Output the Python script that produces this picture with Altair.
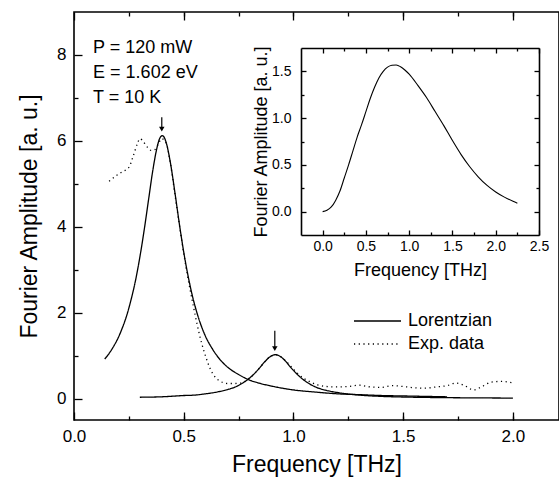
import altair as alt
import pandas as pd

# ---------------- data ----------------
lor1_x = [0.14, 0.16, 0.18, 0.20, 0.22, 0.24, 0.26, 0.28, 0.30, 0.32, 0.34, 0.36, 0.38, 0.39, 0.402,
          0.41, 0.42, 0.44, 0.46, 0.48, 0.50, 0.52, 0.54, 0.56, 0.58, 0.60, 0.63, 0.66, 0.70, 0.75,
          0.80, 0.85, 0.90, 0.95, 1.0, 1.1, 1.2, 1.3, 1.4, 1.5, 1.6, 1.7]
lor1_y = [0.92, 1.05, 1.21, 1.40, 1.64, 1.93, 2.30, 2.74, 3.29, 3.93, 4.64, 5.34, 5.88, 6.05, 6.12,
          6.09, 5.96, 5.47, 4.79, 4.07, 3.41, 2.85, 2.38, 2.00, 1.69, 1.44, 1.16, 0.94, 0.73, 0.56,
          0.43, 0.35, 0.29, 0.24, 0.20, 0.15, 0.11, 0.09, 0.07, 0.06, 0.05, 0.04]

lor2_x = [0.30, 0.40, 0.50, 0.55, 0.60, 0.65, 0.70, 0.74, 0.78, 0.81, 0.84, 0.87, 0.89, 0.918, 0.94,
          0.96, 0.99, 1.02, 1.05, 1.10, 1.15, 1.20, 1.30, 1.40, 1.50, 1.60, 1.70, 1.80, 1.90, 2.00]
lor2_y = [0.03, 0.04, 0.07, 0.08, 0.11, 0.15, 0.21, 0.28, 0.40, 0.52, 0.68, 0.86, 0.96, 1.02, 0.98,
          0.89, 0.71, 0.55, 0.42, 0.27, 0.19, 0.14, 0.08, 0.05, 0.035, 0.026, 0.02, 0.016, 0.013, 0.01]

exp_x = [0.16, 0.19, 0.22, 0.25, 0.27, 0.29, 0.30, 0.31, 0.33, 0.35, 0.37, 0.38, 0.40, 0.42, 0.44,
         0.46, 0.48, 0.50, 0.52, 0.54, 0.56, 0.58, 0.60, 0.62, 0.64, 0.66, 0.68, 0.70, 0.73, 0.76,
         0.78, 0.81, 0.84, 0.87, 0.89, 0.92, 0.94, 0.96, 0.99, 1.02, 1.05, 1.08, 1.11, 1.15, 1.20,
         1.25, 1.30, 1.35, 1.40, 1.45, 1.50, 1.55, 1.60, 1.65, 1.70, 1.74, 1.78, 1.82, 1.86, 1.90,
         1.95, 2.00]
exp_y = [5.06, 5.18, 5.28, 5.38, 5.65, 5.95, 6.05, 6.02, 5.88, 5.78, 5.80, 5.88, 6.05, 5.95, 5.45,
         4.75, 4.05, 3.38, 2.78, 2.25, 1.75, 1.32, 0.98, 0.70, 0.52, 0.42, 0.37, 0.35, 0.35, 0.36,
         0.40, 0.52, 0.68, 0.86, 0.96, 1.02, 0.98, 0.90, 0.74, 0.58, 0.46, 0.38, 0.32, 0.28, 0.27,
         0.28, 0.31, 0.27, 0.26, 0.30, 0.28, 0.25, 0.24, 0.27, 0.30, 0.36, 0.30, 0.20, 0.28, 0.38,
         0.40, 0.36]

inset_x = [0.0, 0.05, 0.1, 0.15, 0.2, 0.25, 0.3, 0.35, 0.4, 0.45, 0.5, 0.55, 0.6, 0.65, 0.7, 0.75,
           0.8, 0.85, 0.9, 0.95, 1.0, 1.1, 1.2, 1.3, 1.4, 1.5, 1.6, 1.7, 1.8, 1.9, 2.0, 2.1, 2.2, 2.25]
inset_y = [0.0, 0.015, 0.05, 0.12, 0.22, 0.36, 0.50, 0.65, 0.80, 0.93, 1.07, 1.21, 1.33, 1.43, 1.50,
           1.545, 1.565, 1.568, 1.55, 1.515, 1.47, 1.35, 1.22, 1.07, 0.92, 0.76, 0.61, 0.48, 0.37,
           0.28, 0.21, 0.155, 0.11, 0.09]

arrow_x = [0.40, 0.915]
arrow_top = [6.55, 1.58]
arrow_head = [6.27, 1.16]

notes = ["P = 120 mW", "E = 1.602 eV", "T = 10 K"]
note_x = [0.087, 0.087, 0.087]
note_y = [8.16, 7.58, 7.0]

series_names = ["Lorentzian", "Exp. data"]

main_x_major = [0.0, 0.5, 1.0, 1.5, 2.0]
main_x_minor = [0.25, 0.5, 0.75, 1.0, 1.25, 1.5, 1.75, 2.0]
main_y_major = [0, 2, 4, 6, 8]
main_y_minor = [1, 3, 5, 7]
inset_x_major = [0.0, 0.5, 1.0, 1.5, 2.0, 2.5]
inset_x_minor = [0.25, 0.75, 1.25, 1.75, 2.25]
inset_y_major = [0.0, 0.5, 1.0, 1.5]
inset_y_minor = [0.25, 0.75, 1.25]

# ---------------- layout ----------------
FONT = "Liberation Sans"
W, H = 485, 408
IN_X_RANGE = [227, 465]
IN_Y_RANGE = [223, 36]
IN_BOTTOM_OFF = IN_Y_RANGE[0] - H      # offset of inset bottom edge
IN_TOP_OFF = -IN_Y_RANGE[1]
IN_LEFT_OFF = -IN_X_RANGE[0]
IN_RIGHT_OFF = IN_X_RANGE[1] - W

rows = []
for x, y in zip(lor1_x, lor1_y):
    rows.append({"x": x, "y": y, "series": "Lorentzian", "curve": "L1"})
for x, y in zip(lor2_x, lor2_y):
    rows.append({"x": x, "y": y, "series": "Lorentzian", "curve": "L2"})
for x, y in zip(exp_x, exp_y):
    rows.append({"x": x, "y": y, "series": "Exp. data", "curve": "E"})
main_df = pd.DataFrame(rows)
inset_df = pd.DataFrame({"x": inset_x, "y": inset_y})
arrow_df = pd.DataFrame({"x": arrow_x, "top": arrow_top, "head": arrow_head})
note_df = pd.DataFrame({"x": note_x, "y": note_y, "text": notes})


def xs_main():
    return alt.Scale(domain=[0, 2.21], nice=False, zero=False)


def ys_main():
    return alt.Scale(domain=[-0.5, 9], nice=False, zero=False)


def xs_in():
    return alt.Scale(domain=[-0.25, 2.5], range=IN_X_RANGE, nice=False, zero=False)


def ys_in():
    return alt.Scale(domain=[-0.25, 1.75], range=IN_Y_RANGE, nice=False, zero=False)


def tick_axis(orient, values, size, offset):
    return alt.Axis(orient=orient, values=values, tickSize=size, offset=offset, labels=False,
                    domain=False, grid=False, ticks=True, title=None)


def frame_axis(orient, offset):
    return alt.Axis(orient=orient, offset=offset, labels=False, ticks=False, domain=True,
                    grid=False, title=None, domainWidth=1.6)


def tick_layer(df, xs, ys, xaxis, yaxis):
    return alt.Chart(df).mark_point(opacity=0).encode(
        x=alt.X("x:Q", scale=xs, axis=xaxis),
        y=alt.Y("y:Q", scale=ys, axis=yaxis),
    )


lines = alt.Chart(main_df).mark_line(color="black", strokeWidth=1.3, interpolate="monotone").encode(
    x=alt.X("x:Q", scale=xs_main(),
            axis=alt.Axis(orient="bottom", values=main_x_major, format=".1f", tickSize=8, offset=-8,
                          domain=False, grid=False, labelPadding=8, labelFontSize=17,
                          labelFlush=False, title="Frequency [THz]", titleFontSize=23,
                          titlePadding=9)),
    y=alt.Y("y:Q", scale=ys_main(),
            axis=alt.Axis(orient="left", values=main_y_major, format="d", tickSize=8, offset=-8,
                          domain=False, grid=False, labelPadding=8, labelFontSize=17,
                          labelFlush=False, title="Fourier Amplitude [a. u.]", titleFontSize=23,
                          titlePadding=15)),
    strokeDash=alt.StrokeDash("series:N",
                              scale=alt.Scale(domain=series_names, range=[[1, 0], [1.2, 3.5]]),
                              legend=alt.Legend(orient="none", legendX=279, legendY=300, title=None,
                                                symbolType="stroke", symbolSize=2209,
                                                symbolStrokeWidth=1.3, symbolStrokeColor="black",
                                                labelFontSize=18, labelOffset=6, rowPadding=5,
                                                clipHeight=18, padding=0)),
    detail="curve:N",
)

arrow_shaft = alt.Chart(arrow_df).mark_rule(color="black", strokeWidth=1.2).encode(
    x=alt.X("x:Q", scale=xs_main(), axis=None),
    y=alt.Y("top:Q", scale=ys_main(), axis=None),
    y2="head:Q",
)
arrow_tip = alt.Chart(arrow_df).mark_point(shape="triangle-down", filled=True, color="black",
                                           size=30, opacity=1).encode(
    x=alt.X("x:Q", scale=xs_main(), axis=None),
    y=alt.Y("head:Q", scale=ys_main(), axis=None),
)

note_text = alt.Chart(note_df).mark_text(align="left", baseline="middle", fontSize=18, font=FONT,
                                         color="black").encode(
    x=alt.X("x:Q", scale=xs_main(), axis=None),
    y=alt.Y("y:Q", scale=ys_main(), axis=None),
    text="text:N",
)

main_minor = tick_layer(main_df, xs_main(), ys_main(),
                        tick_axis("bottom", main_x_minor, 4, -4),
                        tick_axis("left", main_y_minor, 4, -4))
main_top = tick_layer(main_df, xs_main(), ys_main(),
                      tick_axis("top", main_x_major, 8, -8), None)
main_top_minor = tick_layer(main_df, xs_main(), ys_main(),
                            tick_axis("top", main_x_minor, 4, -4), None)

inset_line = alt.Chart(inset_df).mark_line(color="black", strokeWidth=1.1, interpolate="monotone").encode(
    x=alt.X("x:Q", scale=xs_in(),
            axis=alt.Axis(orient="bottom", values=inset_x_major, format=".1f", tickSize=5,
                          offset=IN_BOTTOM_OFF - 5, domain=False, grid=False, labelPadding=4,
                          labelFontSize=14, labelFlush=False, title="Frequency [THz]",
                          titleFontSize=18, titlePadding=8)),
    y=alt.Y("y:Q", scale=ys_in(),
            axis=alt.Axis(orient="left", values=inset_y_major, format=".1f", tickSize=5,
                          offset=IN_LEFT_OFF - 5, domain=False, grid=False, labelPadding=10,
                          labelFontSize=14, labelFlush=False, title="Fourier Amplitude [a. u.]",
                          titleFontSize=18, titlePadding=1)),
)
inset_minor = tick_layer(inset_df, xs_in(), ys_in(),
                         tick_axis("bottom", inset_x_minor, 3, IN_BOTTOM_OFF - 3),
                         tick_axis("left", inset_y_minor, 3, IN_LEFT_OFF - 3))
inset_top = tick_layer(inset_df, xs_in(), ys_in(),
                       tick_axis("top", inset_x_major, 5, IN_TOP_OFF - 5),
                       tick_axis("right", inset_y_major, 5, IN_RIGHT_OFF - 5))
inset_top_minor = tick_layer(inset_df, xs_in(), ys_in(),
                             tick_axis("top", inset_x_minor, 3, IN_TOP_OFF - 3),
                             tick_axis("right", inset_y_minor, 3, IN_RIGHT_OFF - 3))
inset_frame_a = tick_layer(inset_df, xs_in(), ys_in(),
                           frame_axis("bottom", IN_BOTTOM_OFF), frame_axis("left", IN_LEFT_OFF))
inset_frame_b = tick_layer(inset_df, xs_in(), ys_in(),
                           frame_axis("top", IN_TOP_OFF), frame_axis("right", IN_RIGHT_OFF))

chart = alt.layer(
    lines, arrow_shaft, arrow_tip, note_text, main_minor, main_top, main_top_minor,
    inset_line, inset_minor, inset_top, inset_top_minor, inset_frame_a, inset_frame_b,
).resolve_scale(
    x="independent", y="independent"
).properties(
    width=W, height=H,
    padding={"left": 74, "top": 12, "right": 0, "bottom": 67},
    autosize=alt.AutoSizeParams(type="none"),
).configure_view(
    stroke="black", strokeWidth=1.6
).configure_axis(
    labelFont=FONT, titleFont=FONT, labelColor="black", titleColor="black",
    tickColor="black", domainColor="black", tickWidth=1.3, titleFontWeight="normal",
).configure_legend(
    labelFont=FONT, labelColor="black"
)

chart.save("out.html", embed_options={"renderer": "svg", "actions": False})
